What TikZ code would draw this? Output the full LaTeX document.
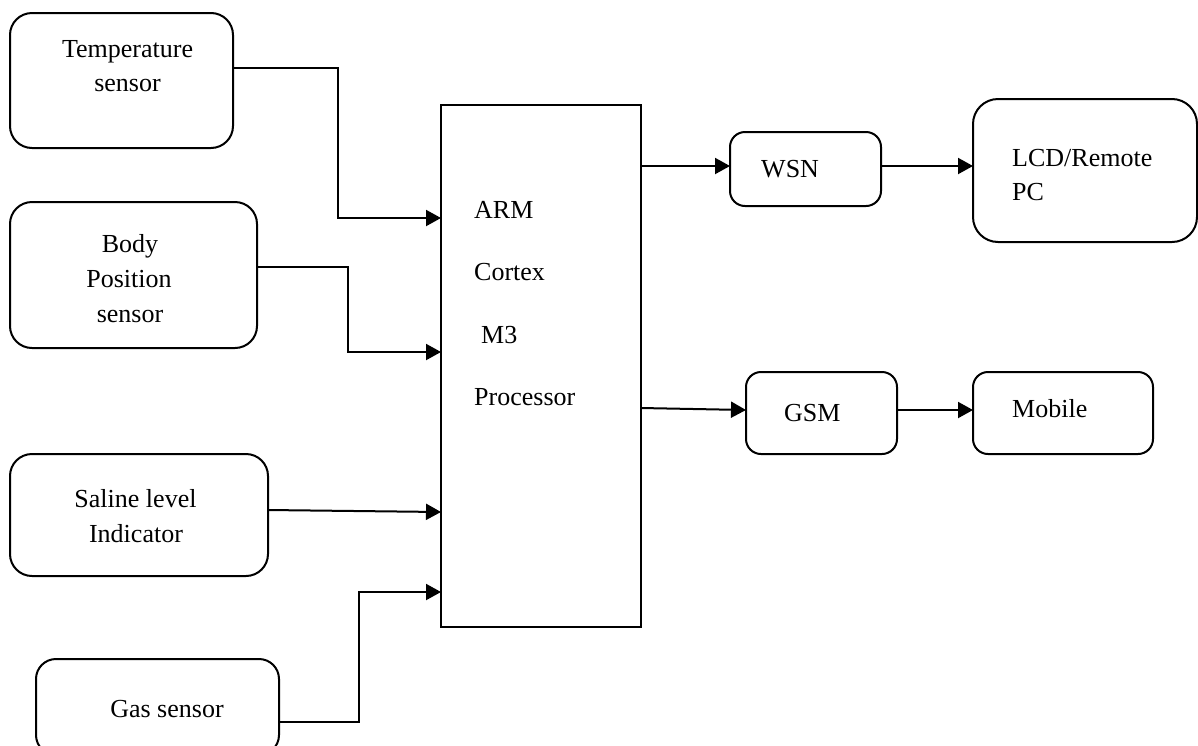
\documentclass[tikz,border=0pt]{standalone}
\usepackage{fontspec}
\setmainfont{Liberation Serif}
\usetikzlibrary{arrows.meta,calc}
\begin{document}
\begin{tikzpicture}[x=1pt,y=-1pt,
  box/.style={draw, line width=2pt, rounded corners=#1, inner sep=0pt, outer sep=0pt},
  box/.default=22pt,
  procbox/.style={draw, line width=2pt, inner sep=0pt, outer sep=0pt},
  lbl/.style={inner sep=0pt, anchor=base, font=\fontsize{26}{34}\selectfont},
  lbll/.style={lbl, anchor=base west},
  arr/.style={line width=2pt, -{Triangle[length=15pt,width=16pt]}}]
\useasboundingbox (0,0) rectangle (1198,745);

% boxes
\node[box, minimum width=223pt, minimum height=135pt] (temp) at (121.5,80.5) {};
\node[box, minimum width=247pt, minimum height=146pt] (body) at (133.5,275) {};
\node[box, minimum width=258pt, minimum height=122pt] (sal) at (139,515) {};
\node[box=20pt, minimum width=243pt, minimum height=96pt] (gas) at (157.5,707) {};
\node[procbox, minimum width=200pt, minimum height=522pt] (proc) at (541,366) {};
\node[box=15pt, minimum width=151pt, minimum height=74pt] (wsn) at (805.5,169) {};
\node[box=25pt, minimum width=224pt, minimum height=143pt] (lcd) at (1085,170.5) {};
\node[box=15pt, minimum width=151pt, minimum height=82pt] (gsm) at (821.5,413) {};
\node[box=15pt, minimum width=180pt, minimum height=82pt] (mob) at (1063,413) {};

% labels
\node[lbl] (t1) at (127.5,57) {Temperature};
\node[lbl] (t2) at (127.5,91) {sensor};
\node[lbl] (b1) at (130,252) {Body};
\node[lbl] (b2) at (129,287) {Position};
\node[lbl] (b3) at (130,322) {sensor};
\node[lbl] (s1) at (135.5,507) {Saline level};
\node[lbl] (s2) at (136,542) {Indicator};
\node[lbl] (g1) at (167,717) {Gas sensor};
\node[lbll] (p1) at (474,218) {ARM};
\node[lbll] (p2) at (474,280) {Cortex};
\node[lbll] (p3) at (481,343) {M3};
\node[lbll] (p4) at (474,405) {Processor};
\node[lbll] (w1) at (761,177) {WSN};
\node[lbll] (l1) at (1012,166) {LCD/Remote};
\node[lbll] (l2) at (1012,200) {PC};
\node[lbll] (m1) at (784,421) {GSM};
\node[lbll] (m2) at (1012,417) {Mobile};

% connector points
\coordinate (in1) at (proc.west |- 0,218);
\coordinate (in2) at (proc.west |- 0,352);
\coordinate (in3) at (proc.west |- 0,512);
\coordinate (in4) at (proc.west |- 0,592);
\coordinate (out1) at (proc.east |- 0,166);
\coordinate (out2) at (proc.east |- 0,408);
\coordinate (wsnin) at (wsn.west |- 0,166);
\coordinate (wsnout) at (wsn.east |- 0,166);
\coordinate (lcdin) at (lcd.west |- 0,166);
\coordinate (gsmin) at (gsm.west |- 0,410);
\coordinate (gsmout) at (gsm.east |- 0,410);
\coordinate (mobin) at (mob.west |- 0,410);

% connectors
\draw[arr] ([yshift=12.5pt]temp.east) -| (338,218) -- (in1);
\draw[arr] ([yshift=8pt]body.east) -| (348,352) -- (in2);
\draw[arr] ([yshift=5pt]sal.east) -- (in3);
\draw[arr] ([yshift=-15pt]gas.east) -| (359,592) -- (in4);
\draw[arr] (out1) -- (wsnin);
\draw[arr] (wsnout) -- (lcdin);
\draw[arr] (out2) -- (gsmin);
\draw[arr] (gsmout) -- (mobin);
\end{tikzpicture}
\end{document}
